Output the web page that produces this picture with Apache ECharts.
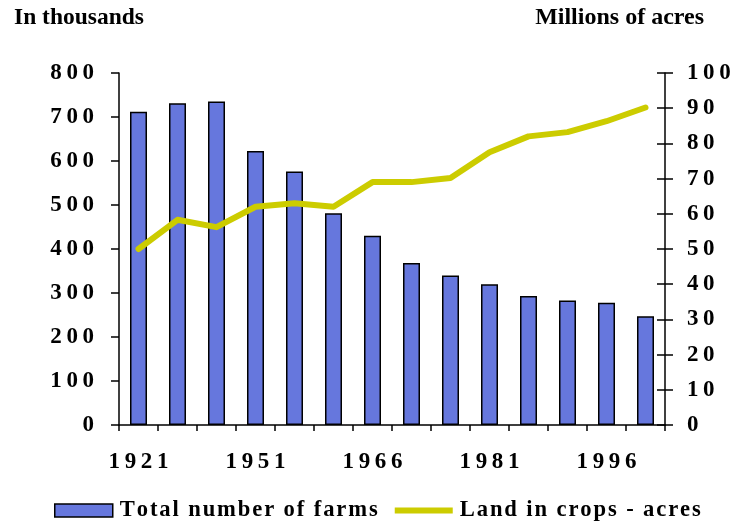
<!DOCTYPE html>
<html>
<head>
<meta charset="utf-8">
<script src="https://cdn.jsdelivr.net/npm/echarts@6/dist/echarts.min.js"></script>
<style>html,body{margin:0;padding:0;background:#fff}#c{width:736px;height:526px}</style>
</head>
<body>
<div id="c"></div>
<script>
var years = ['1921','1931','1941','1951','1956','1961','1966','1971','1976','1981','1986','1991','1996','2001'];
var farms = [712, 731, 735, 623, 576, 481, 430, 368, 340, 320, 293, 283, 278, 247];
var landAcres = [50, 58.3, 56.2, 62, 63, 62, 69, 69, 70.2, 77.5, 82, 83.2, 86.3, 90.2];
var leftTicks = {min: 0, max: 800, interval: 100};
var rightTicks = {min: 0, max: 100, interval: 10};
var farmsName = 'Total number of farms';
var landName = 'Land in crops - acres';

var FONT = '"Liberation Serif", "Times New Roman", serif';
function spaced(s, sep) { return String(s).split('').join(sep); }
var THIN = '\u2009', HAIR = '\u200A';

var chart = echarts.init(document.getElementById('c'), null, {renderer: 'canvas'});
var grid = {left: 119, right: 71, top: 73, bottom: 101, containLabel: false};
var labelStyle = {color: '#000', fontFamily: FONT, fontWeight: 'bold', fontSize: 23};

chart.setOption({
  backgroundColor: '#fff',
  animation: false,
  title: [
    {text: 'In thousands', left: 9, top: 1, textStyle: {color: '#000', fontFamily: FONT, fontWeight: 'bold', fontSize: 23.5}},
    {text: 'Millions of acres', right: 27, top: 1, textStyle: {color: '#000', fontFamily: FONT, fontWeight: 'bold', fontSize: 24}}
  ],
  grid: grid,
  legend: {
    bottom: -1, left: 49,
    itemWidth: 58, itemHeight: 13, itemGap: 17,
    textStyle: {color: '#000', fontFamily: FONT, fontWeight: 'bold', fontSize: 22.6, padding: [0,0,0,2]},
    formatter: function (n) { return spaced(n, HAIR); },
    data: [
      {name: farmsName, icon: 'rect', itemStyle: {borderColor: '#000', borderWidth: 1.5}},
      {name: landName, icon: 'path://M0,0 H60 V6 H0 Z', itemStyle: {color: '#CCCC00', borderWidth: 0}}
    ]
  },
  xAxis: {
    type: 'category', data: years,
    axisLine: {lineStyle: {color: '#000', width: 1.5}},
    axisTick: {show: true, interval: 0, length: 6, lineStyle: {color: '#000', width: 1.5}},
    axisLabel: Object.assign({interval: 2, margin: 26, formatter: function (v) { return spaced(v, THIN); }}, labelStyle),
    splitLine: {show: false}
  },
  yAxis: [
    Object.assign({type: 'value', position: 'left',
      axisLine: {show: true, lineStyle: {color: '#000', width: 1.5}},
      axisTick: {show: true, length: 8, lineStyle: {color: '#000', width: 1.5}},
      axisLabel: Object.assign({margin: 25, formatter: function (v) { return spaced(v, THIN); }}, labelStyle),
      splitLine: {show: false}}, leftTicks),
    Object.assign({type: 'value', position: 'right',
      axisLine: {show: true, lineStyle: {color: '#000', width: 1.5}},
      axisTick: {show: true, length: 8, lineStyle: {color: '#000', width: 1.5}},
      axisLabel: Object.assign({margin: 22, align: 'left', formatter: function (v) { return spaced(v, THIN); }}, labelStyle),
      splitLine: {show: false}}, rightTicks),
    Object.assign({type: 'value', position: 'right',
      axisLine: {show: false},
      axisTick: {show: true, inside: true, length: 8, lineStyle: {color: '#000', width: 1.5}},
      axisLabel: {show: false},
      splitLine: {show: false}}, rightTicks)
  ],
  series: [
    {
      name: farmsName, type: 'bar', data: farms, yAxisIndex: 0,
      barWidth: 17,
      itemStyle: {color: '#6677DD', borderColor: '#000', borderWidth: 1.5}
    },
    {
      name: landName, type: 'line', data: landAcres, yAxisIndex: 1,
      symbol: 'none', showSymbol: false, z: 5,
      lineStyle: {color: '#CCCC00', width: 6, cap: 'round', join: 'round'},
      itemStyle: {color: '#CCCC00'}
    }
  ]
});
</script>
</body>
</html>
